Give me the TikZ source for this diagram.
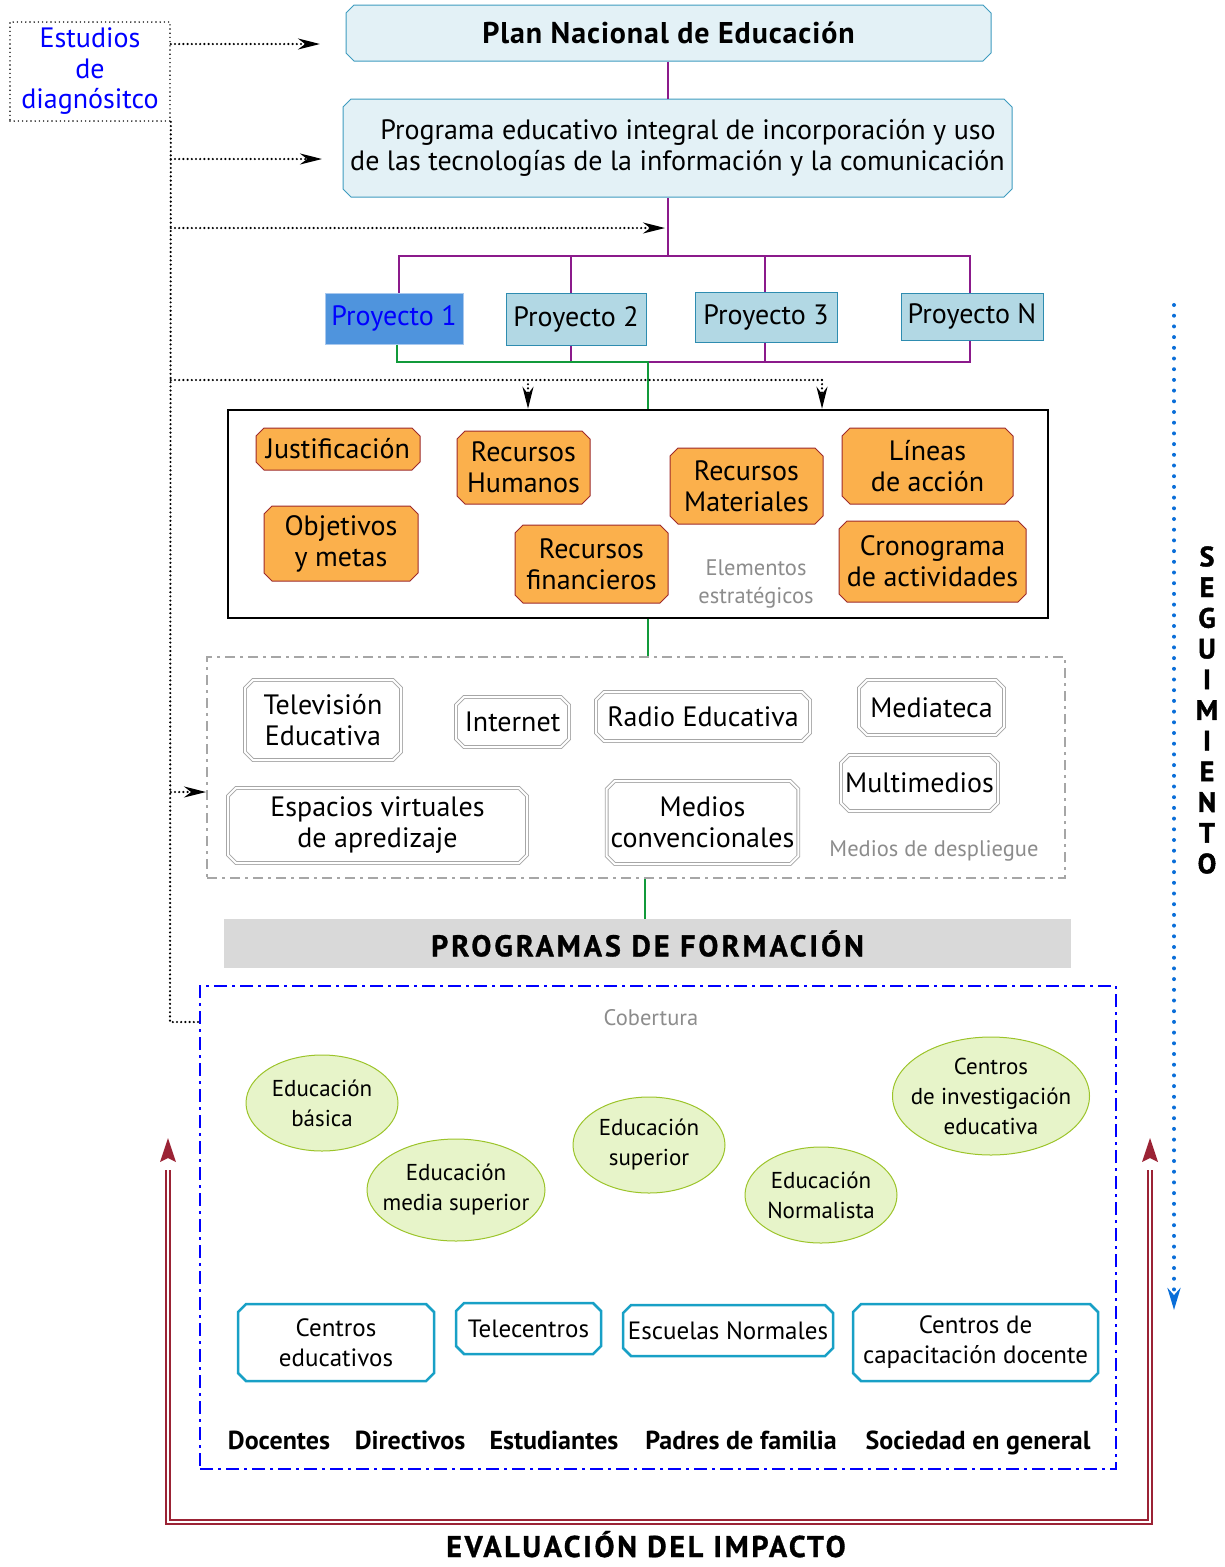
\documentclass[tikz,border=0pt]{standalone}
\usepackage{fontspec}
\setmainfont{PT Sans}
\usetikzlibrary{arrows.meta,shapes.misc,shapes.geometric}
\definecolor{topfill}{HTML}{E3F1F6}
\definecolor{topline}{HTML}{3E9BBF}
\definecolor{p1fill}{HTML}{4F94DD}
\definecolor{p1line}{HTML}{A8C8EE}
\definecolor{pfill}{HTML}{B2D8E4}
\definecolor{pline}{HTML}{2E8CB0}
\definecolor{orfill}{HTML}{FBB04C}
\definecolor{orline}{HTML}{9E2A2B}
\definecolor{elfill}{HTML}{E7F4C9}
\definecolor{elline}{HTML}{9CC42A}
\definecolor{teal2}{HTML}{18A0C6}
\definecolor{purp}{HTML}{8B1A8B}
\definecolor{grn}{HTML}{119A3A}
\definecolor{dred}{HTML}{9B2335}
\definecolor{gtext}{HTML}{8C8C8C}
\definecolor{segblue}{HTML}{0A6ED8}
\definecolor{bandgray}{HTML}{D9D9D9}
\begin{document}
\begin{tikzpicture}[x=1pt,y=-1pt,
  cham/.style={chamfered rectangle, chamfered rectangle xsep=4pt, chamfered rectangle ysep=4pt, inner sep=0pt, align=center},
  txt/.style={font=\fontsize{28}{31}\selectfont},
  topbox/.style={cham, draw=topline, fill=topfill, line width=1pt, txt},
  projbox/.style={rectangle, draw=pline, fill=pfill, line width=1pt, inner sep=0pt, txt},
  orbox/.style={cham, draw=orline, fill=orfill, line width=1pt, txt},
  medbox/.style={cham, draw=gray!70, double=white, double distance=2pt, line width=0.8pt, fill=white, txt},
  tealbox/.style={cham, draw=teal2, line width=2.5pt, fill=white, font=\fontsize{25}{30}\selectfont},
  ell/.style={ellipse, draw=elline, fill=elfill, line width=1pt, inner sep=0pt},
  elltext/.style={align=center, inner sep=0pt, font=\fontsize{23}{30}\selectfont},
  graylabel/.style={text=gtext, align=center, font=\fontsize{22.5}{28}\selectfont},
  dotline/.style={line width=2.4pt, line cap=round, dash pattern=on 0pt off 4.2pt},
  dotarr/.style={dotline, -{Stealth[length=22pt,width=11pt,line cap=butt]}},
  purpline/.style={draw=purp, line width=2.5pt},
  grnline/.style={draw=grn, line width=2.5pt},
  rowlabel/.style={anchor=base, font=\bfseries\fontsize{26}{28}\selectfont}
]
\useasboundingbox (0,0) rectangle (1225,1567);

% Estudios
\node[draw, dotline, line width=1.6pt, minimum width=160, minimum height=99, inner sep=0pt, align=center, text=blue, font=\fontsize{28}{30.5}\selectfont] (est) at (90,71.5) {Estudios\\de\\diagnósitco};

% top boxes
\node[topbox, minimum width=645, minimum height=56, font=\bfseries\fontsize{30}{32}\selectfont\addfontfeatures{LetterSpace=3}] (plan) at (668.5,33) {Plan Nacional de Educación};
\node[topbox, minimum width=669, minimum height=98] (prog) at (677.5,148) {\hspace*{21pt}Programa educativo integral de incorporación y uso\\de las tecnologías de la información y la comunicación};

% projects
\node[projbox, fill=p1fill, draw=p1line, text=blue, minimum width=138, minimum height=51] (p1) at (394,318.5) {Proyecto 1};
\node[projbox, minimum width=140, minimum height=52] (p2) at (576,319) {Proyecto 2};
\node[projbox, minimum width=142, minimum height=50] (p3) at (766,317) {Proyecto 3};
\node[projbox, minimum width=142, minimum height=47] (pN) at (972,316.5) {Proyecto N};

% elements box
\node[draw, line width=2.5pt, minimum width=820, minimum height=208, inner sep=0pt] (elem) at (638,514) {};
\node[orbox, minimum width=164, minimum height=42] (jus) at (338,449) {Justificación};
\node[orbox, minimum width=133, minimum height=73] (rh) at (523.5,467.5) {Recursos\\Humanos};
\node[orbox, minimum width=153, minimum height=76] (rm) at (746.5,486) {Recursos\\Materiales};
\node[orbox, minimum width=171, minimum height=76] (lin) at (927.5,466) {Líneas\\de acción};
\node[orbox, minimum width=154, minimum height=75] (obj) at (341,543.5) {Objetivos\\y metas};
\node[orbox, minimum width=153, minimum height=78] (rf) at (591.5,564) {Recursos\\financieros};
\node[orbox, minimum width=187, minimum height=81] (cro) at (932.5,561.5) {Cronograma\\de actividades};
\node[graylabel] (elab) at (756,584) {Elementos\\estratégicos};

% media box
\node[draw=gray!70, line width=2pt, dash pattern=on 10pt off 5pt on 3pt off 5pt, minimum width=858, minimum height=221, inner sep=0pt] (med) at (636,767.5) {};
\node[medbox, minimum width=156, minimum height=80] (tv) at (323,720) {Televisión\\Educativa};
\node[medbox, minimum width=113, minimum height=50] (int) at (512.5,722) {Internet};
\node[medbox, minimum width=214, minimum height=49] (rad) at (703,716.5) {Radio Educativa};
\node[medbox, minimum width=145, minimum height=55] (mdt) at (931.5,707.5) {Mediateca};
\node[medbox, minimum width=157, minimum height=56] (mul) at (919.5,783) {Multimedios};
\node[medbox, minimum width=299, minimum height=75] (esp) at (377.5,825.5) {Espacios virtuales\\de apredizaje};
\node[medbox, minimum width=191, minimum height=83] (mco) at (702.5,822.5) {Medios\\convencionales};
\node[graylabel] (mlab) at (934,851) {Medios de despliegue};

% programas band
\node[fill=bandgray, minimum width=847, minimum height=49, inner sep=0pt, font=\bfseries\fontsize{30}{30}\selectfont\addfontfeatures{LetterSpace=10,FakeBold=1}] (pf) at (647.5,943.5) {PROGRAMAS DE FORMACIÓN};

% cobertura box
\node[draw=blue, line width=2.8pt, dash pattern=on 13pt off 5pt on 3pt off 5pt, minimum width=916, minimum height=483, inner sep=0pt] (cob) at (658,1227.5) {};
\node[graylabel] (clab) at (651,1018) {Cobertura};

\node[ell, minimum width=152, minimum height=96] (eb) at (322,1103) {};
\node[elltext] (ebt) at (eb.center) {Educación\\básica};
\node[ell, minimum width=178, minimum height=102] (ems) at (456,1190) {};
\node[elltext] (emst) at (ems.center) {Educación\\media superior};
\node[ell, minimum width=152, minimum height=96] (es) at (649,1145) {};
\node[elltext] (est2) at (es.center) {Educación\\superior};
\node[ell, minimum width=152, minimum height=96] (enor) at (821,1195) {};
\node[elltext] (enort) at (enor.center) {Educación\\Normalista};
\node[ell, minimum width=197, minimum height=118] (cie) at (991,1096) {};
\node[elltext] (ciet) at (cie.center) {Centros\\de investigación\\educativa};

\node[tealbox, minimum width=196, minimum height=77] (ce) at (336,1342.5) {Centros\\educativos};
\node[tealbox, minimum width=145, minimum height=51] (tel) at (528.5,1328.5) {Telecentros};
\node[tealbox, minimum width=210, minimum height=51] (esn) at (728,1330.5) {Escuelas Normales};
\node[tealbox, minimum width=245, minimum height=77] (ccd) at (975.5,1342.5) {Centros de\\capacitación docente};

\node[rowlabel] (doc) at (279,1449) {Docentes};
\node[rowlabel] (dir) at (410,1449) {Directivos};
\node[rowlabel] (estu) at (554,1449) {Estudiantes};
\node[rowlabel] (pad) at (741,1449) {Padres de familia};
\node[rowlabel] (soc) at (978,1449) {Sociedad en general};

% seguimiento
\node[align=center, font=\bfseries\fontsize{28}{30.7}\selectfont\addfontfeatures{FakeBold=1.5}] (seg) at (1207,710) {S\\E\\G\\U\\I\\M\\I\\E\\N\\T\\O};
\coordinate (s1) at (1174,305);
\coordinate (s2) at (1174,1310);
\draw[draw=segblue, line width=4pt, line cap=round, dash pattern=on 0pt off 10.7pt, -{Stealth[length=22pt,width=13pt,fill=segblue,line cap=butt]}] (s1) -- (s2);

% evaluacion
\node[anchor=base, inner sep=0pt, font=\bfseries\fontsize{30}{32}\selectfont\addfontfeatures{LetterSpace=9,FakeBold=1}] (eva) at (646,1557) {EVALUACIÓN DEL IMPACTO};
\coordinate (rl) at (168,1138);
\coordinate (rr) at (1150,1138);
\coordinate (rl2) at (168,1170);
\coordinate (rr2) at (1150,1170);
\draw[draw=dred, double=white, double distance=2.5pt, line width=1.3pt] (rl2) -- (168,1522) -- (1150,1522) -- (rr2);
\fill[dred] (rl) -- ++(8,24) -- ++(-8,-4) -- ++(-8,4) -- cycle;
\fill[dred] (rr) -- ++(8,24) -- ++(-8,-4) -- ++(-8,4) -- cycle;

% purple connectors
\coordinate (pj) at (668,256);
\draw[purpline] (plan.south -| 668,0) -- (prog.north -| 668,0);
\draw[purpline] (prog.south -| 668,0) -- (pj);
\draw[purpline] ([xshift=5pt]p1.north) -- ([xshift=5pt]p1.north |- pj) -- ([xshift=-2pt]pN.north |- pj) -- ([xshift=-2pt]pN.north);
\draw[purpline] ([xshift=-5pt]p2.north) -- ([xshift=-5pt]p2.north |- pj);
\draw[purpline] ([xshift=-1pt]p3.north) -- ([xshift=-1pt]p3.north |- pj);
\coordinate (gj) at (648,362);
\draw[purpline] ([xshift=-5pt]p2.south) -- ([xshift=-5pt]p2.south |- gj);
\draw[purpline] (gj) -- ([xshift=-2pt]pN.south |- gj) -- ([xshift=-2pt]pN.south);
\draw[purpline] ([xshift=-1pt]p3.south) -- ([xshift=-1pt]p3.south |- gj);
\draw[grnline] ([xshift=3pt]p1.south) -- ([xshift=3pt]p1.south |- gj) -- (gj) -- (gj |- elem.north);
\draw[grnline] (elem.south -| gj) -- (med.north -| gj);
\draw[grnline] (med.south -| 645,0) -- (pf.north -| 645,0);

% dotted connectors from Estudios
\coordinate (a1) at (320,44);
\coordinate (a2) at (322,159);
\coordinate (a3) at (665,228);
\coordinate (tb) at (170,1022);
\draw[dotarr] (est.east |- a1) -- (a1);
\draw[dotline] (est.south east) -- (tb) -- (cob.west |- tb);
\draw[dotarr] (est.east |- a2) -- (a2);
\draw[dotarr] (est.east |- a3) -- (a3);
\coordinate (d1) at (528,380);
\coordinate (d2) at (822,380);
\draw[dotline] (est.east |- d1) -- (d2);
\draw[dotarr] (d1) -- (d1 |- elem.north);
\draw[dotarr] (d2) -- (d2 |- elem.north);
\draw[dotarr] (est.east |- 0,792) -- (med.west |- 0,792);
\end{tikzpicture}
\end{document}
